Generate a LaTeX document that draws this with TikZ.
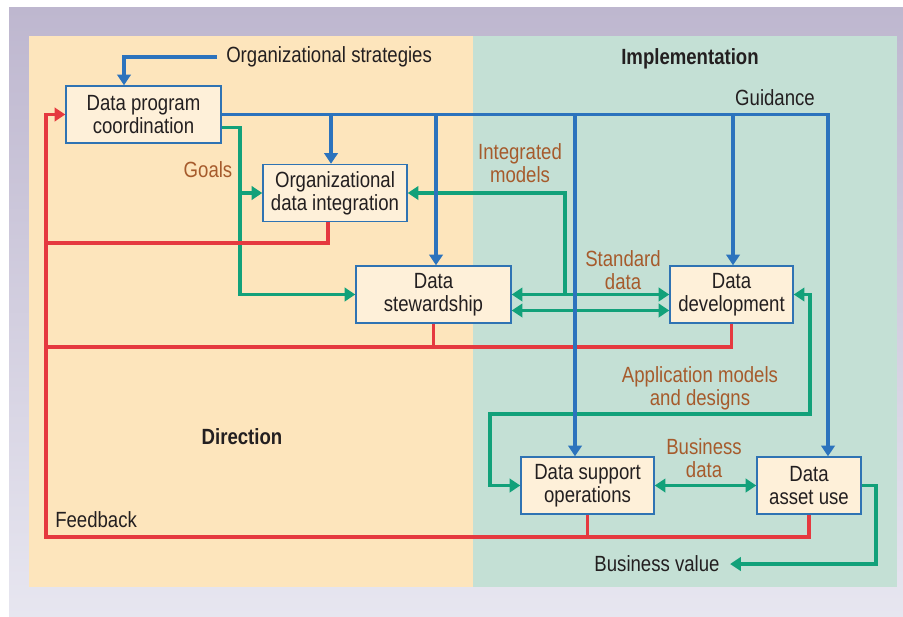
\documentclass[tikz,border=0pt]{standalone}
\usepackage{fontspec}
\setmainfont{Liberation Sans}[FakeStretch=0.845]
\usepackage{xcolor}
\usepackage{tikz}
\usetikzlibrary{arrows.meta}

\definecolor{bgtop}{HTML}{BEB7CF}
\definecolor{bgbot}{HTML}{E7E6F0}
\definecolor{dirfill}{HTML}{FDE5BC}
\definecolor{impfill}{HTML}{C4E0D5}
\definecolor{boxfill}{HTML}{FEF0D9}
\definecolor{boxline}{HTML}{2F73B3}
\definecolor{guideblue}{HTML}{2C73BD}
\definecolor{flowgreen}{HTML}{12A17A}
\definecolor{fbred}{HTML}{E5393F}
\definecolor{lblbrown}{HTML}{A65B2C}
\definecolor{txtdark}{HTML}{231F20}

\begin{document}
\begin{tikzpicture}[x=0.75pt,y=0.75pt,yscale=-1,xscale=1,
  txt/.style={inner sep=0.75pt,align=center,text=txtdark,font=\fontsize{16.5pt}{17.5pt}\selectfont},
  lbl/.style={txt,text=lblbrown},
  box/.style={txt,draw=boxline,line width=1pt,fill=boxfill,minimum height=42.75pt},
  tip/.style={-{Triangle[length=8pt,width=10pt]}},
  bluearr/.style={draw=guideblue,line width=2.3pt,tip},
  greenarr/.style={draw=flowgreen,line width=2.3pt,tip},
  greenboth/.style={draw=flowgreen,line width=2.3pt,{Triangle[length=8pt,width=10pt]}-{Triangle[length=8pt,width=10pt]}},
  redarr/.style={draw=fbred,line width=2.3pt,tip},
  redline/.style={draw=fbred,line width=2.3pt}]
\useasboundingbox (0,0) rectangle (903,617);
\shade[top color=bgtop,bottom color=bgbot] (9,8) rectangle (903,617);
\fill[dirfill] (29,36) rectangle (473,587);
\fill[impfill] (473,36) rectangle (897,587);

\draw (143.5,114.5) node [box,minimum width=116.25pt] (dpc) {Data program\\coordination};
\draw (335,193) node [box,minimum width=108pt] (odi) {Organizational\\data integration};
\draw (433.5,294.5) node [box,minimum width=116.25pt] (ds) {Data\\stewardship};
\draw (731.5,294.5) node [box,minimum width=92.25pt] (dd) {Data\\development};
\draw (587.5,485.5) node [box,minimum width=99.75pt] (dso) {Data support\\operations};
\draw (809,485.5) node [box,minimum width=78pt] (dau) {Data\\asset use};

\draw (225,57) node [anchor=west][txt] (strat) {Organizational strategies};
\draw (690,59) node [txt,font=\fontsize{16.5pt}{17.5pt}\selectfont\bfseries] (impl) {Implementation};
\draw (242,437) node [txt,font=\fontsize{16.5pt}{17.5pt}\selectfont\bfseries] (dir) {Direction};
\draw (775,98) node [txt] (guid) {Guidance};
\draw (54,520) node [anchor=west][txt] (fb) {Feedback};
\draw (657,564) node [txt] (busval) {Business value};
\draw (208,170) node [lbl] (goals) {Goals};
\draw (520,163) node [lbl] (intmod) {Integrated\\models};
\draw (623,270) node [lbl] (stddata) {Standard\\data};
\draw (700,388) node [lbl] (appmod) {Application models\\and designs};
\draw (704,458) node [lbl] (busdata) {Business\\data};

\draw [greenarr] ([yshift=9.4pt]dpc.east) -| (240,294.5) -- (ds.west);
\draw [greenarr] (240,0 |- odi.west) -- (odi.west);
\draw [greenarr] (565,0 |- ds.east) |- (odi.east);
\draw [greenboth] (ds.east) -- (dd.west);
\draw [greenboth] ([yshift=12pt]ds.east) -- ([yshift=12pt]dd.west);
\draw [greenboth] (dd.east) -| (810,414) -| (490,0 |- dso.west) -- (dso.west);
\draw [greenboth] (dso.east) -- (dau.west);
\draw [greenarr] (dau.east) -| (876,564) -- ([xshift=7pt]busval.east);

\draw [redarr] (dau.south) |- (46,537) |- (dpc.west);
\draw [redline] (dso.south) -- (dso.south |- 0,537);
\draw [redline] (dd.south) |- (46,347);
\draw [redline] (ds.south) -- (ds.south |- 0,347);
\draw [redline] (odi.south -| 328,0) |- (46,243);

\draw [bluearr] ([xshift=-6pt]strat.west) -| (dpc.north -| 124,0);
\draw [bluearr] (dpc.east) -| (828,0 |- dau.north);
\draw [bluearr] (dpc.east -| 331,0) -- (odi.north -| 331,0);
\draw [bluearr] (dpc.east -| 436,0) -- (ds.north -| 436,0);
\draw [bluearr] (dpc.east -| 575,0) -- (dso.north -| 575,0);
\draw [bluearr] (dpc.east -| 733,0) -- (dd.north -| 733,0);

\end{tikzpicture}
\end{document}
